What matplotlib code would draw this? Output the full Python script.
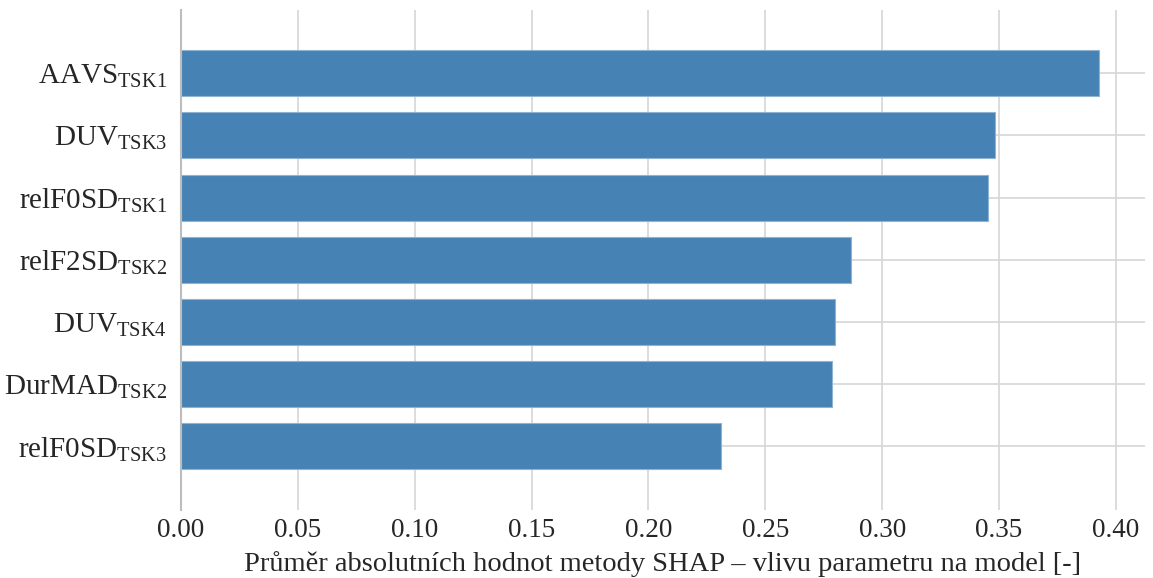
import matplotlib
matplotlib.use("Agg")
import matplotlib.pyplot as plt
import seaborn as sns

features = ["AAVS", "DUV", "relF0SD", "relF2SD", "DUV", "DurMAD", "relF0SD"]
tasks = ["TSK1", "TSK3", "TSK1", "TSK2", "TSK4", "TSK2", "TSK3"]
shap_mean = [0.3927, 0.3482, 0.3452, 0.2866, 0.2798, 0.2785, 0.2310]
x_ticks = [0.00, 0.05, 0.10, 0.15, 0.20, 0.25, 0.30, 0.35, 0.40]

sns.set_theme(style="whitegrid")
plt.rcParams["font.family"] = ["Liberation Serif", "DejaVu Serif"]
plt.rcParams["mathtext.fontset"] = "custom"
plt.rcParams["mathtext.rm"] = "Liberation Serif"
plt.rcParams["mathtext.it"] = "Liberation Serif:italic"
plt.rcParams["mathtext.bf"] = "Liberation Serif:bold"

fig = plt.figure(figsize=(11.53, 5.78), dpi=100)
ax = fig.add_axes([0.157, 0.118, 0.836, 0.865])

labels = [r"$\mathrm{%s}_{\mathrm{%s}}$" % (f, t) for f, t in zip(features, tasks)]
pos = list(range(len(shap_mean)))
ax.barh(pos, shap_mean, height=0.74, color="#4682b4",
        edgecolor="#8fb3d3", linewidth=0.8, zorder=2)

ax.set_yticks(pos)
ax.set_yticklabels(labels, fontsize=21, color="#262626")
ax.set_xticks(x_ticks)
ax.set_xticklabels([f"{v:.2f}" for v in x_ticks], fontsize=19.5, color="#262626")
ax.set_xlim(0, 0.4124)
ax.set_ylim(len(shap_mean) - 1 + 1.02, -1.02)
ax.set_xlabel("Průměr absolutních hodnot metody SHAP – vlivu parametru na model [-]",
              fontsize=20.5, color="#262626", labelpad=6)

ax.grid(True, color="#d6d6d6", linewidth=1.2, zorder=0)
ax.set_axisbelow(True)
for side in ["top", "right", "bottom"]:
    ax.spines[side].set_visible(False)
ax.spines["left"].set_color("#bdbdbd")
ax.spines["left"].set_linewidth(1.5)
ax.tick_params(axis="x", length=0, pad=6)
ax.tick_params(axis="y", length=0, pad=10)

fig.savefig("out.png", dpi=100)
